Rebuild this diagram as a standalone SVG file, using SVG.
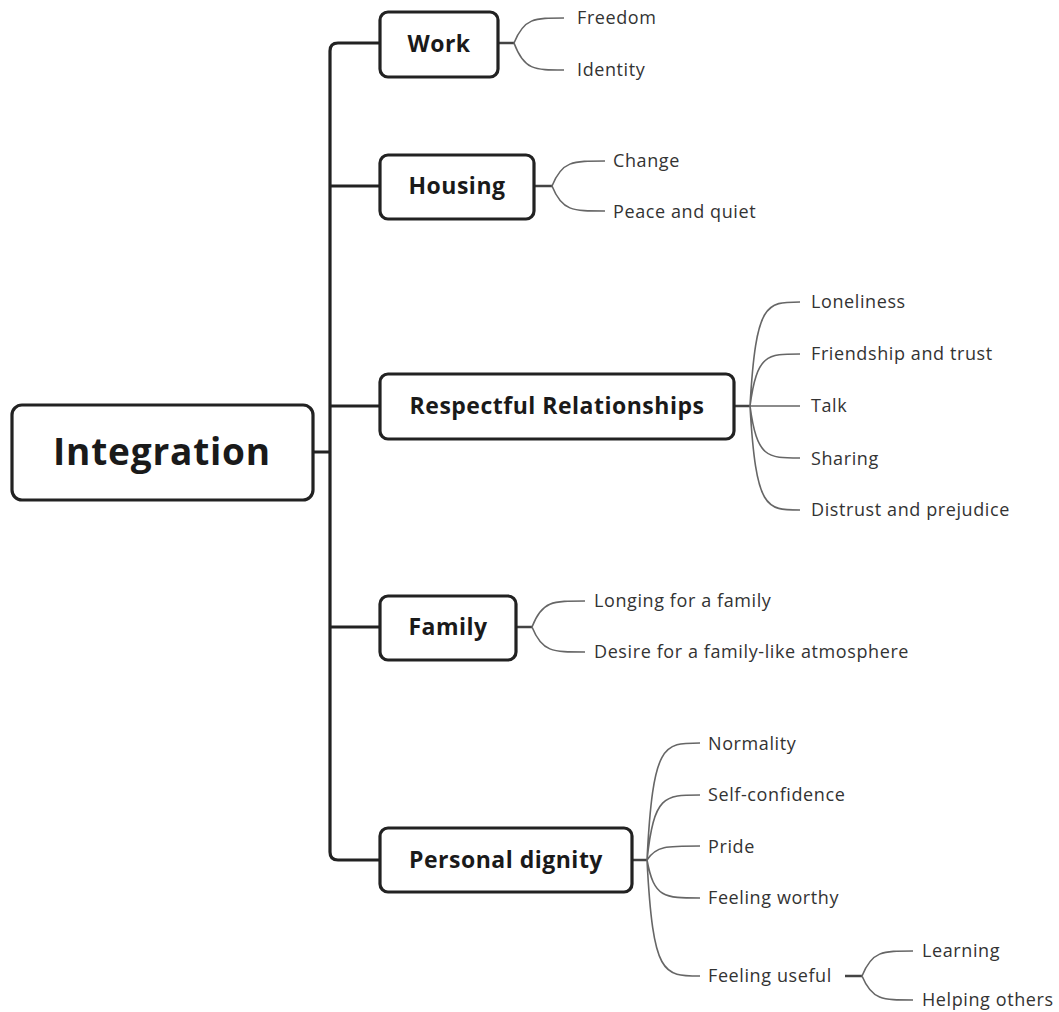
<svg xmlns="http://www.w3.org/2000/svg" width="1059" height="1012" viewBox="0 0 1059 1012">
<style>
.box{fill:#fff;stroke:#222;stroke-width:3.2}
.trunk{fill:none;stroke:#222;stroke-width:3.2}
.stub{fill:none;stroke:#444;stroke-width:2.4}
.br{fill:none;stroke:#666;stroke-width:1.6}
.root{font-family:"Open Sans",sans-serif;font-weight:700;font-size:37px;letter-spacing:0.8px;fill:#1a1a1a;text-anchor:middle}
.main{font-family:"Open Sans",sans-serif;font-weight:700;font-size:23px;letter-spacing:0.5px;fill:#1a1a1a;text-anchor:middle}
.leaf{font-family:"Open Sans",sans-serif;font-size:18px;letter-spacing:0.6px;fill:#333}
</style>
<rect width="1059" height="1012" fill="#fff"/>
<g id="connectors">
<path class="trunk" d="M313 452 H330 M330 852 V51 Q330 43 338 43 H380 M330 186 H380 M330 406 H380 M330 627 H380 M330 852 Q330 860 338 860 H380"/>
<path class="stub" d="M498 43 H514 M534 186 H552 M734 406 H750 M516 627 H532 M632 860 H647 M845 976 H862"/>
<path class="br" d="M514 43 C524 18,534 18,564 18 M514 43 C524 70,534 70,564 70"/>
<path class="br" d="M552 186 C562 161,572 161,605 161 M552 186 C562 211,572 211,605 211"/>
<path class="br" d="M750 406 C756 302,766 302,800 302 M750 406 C757 354,767 354,800 354 M750 406 H800 M750 406 C757 458,767 458,800 458 M750 406 C756 510,766 510,800 510"/>
<path class="br" d="M532 627 C542 601,552 601,585 601 M532 627 C542 652,552 652,585 652"/>
<path class="br" d="M647 860 C653 743,663 743,700 743 M647 860 C654 795,664 795,700 795 M647 860 C656 846,666 846,700 846 M647 860 C654 898,664 898,700 898 M647 860 C653 976,663 976,700 976"/>
<path class="br" d="M862 976 C872 951,882 951,913 951 M862 976 C872 1000,882 1000,913 1000"/>
</g>
<g id="integration"><rect class="box" x="12" y="405" width="301" height="95" rx="10"/><text class="root" x="162" y="465">Integration</text></g>
<g id="work"><rect class="box" x="380" y="12" width="118" height="65" rx="8"/><text class="main" x="439" y="52">Work</text>
<text class="leaf" x="577" y="24">Freedom</text><text class="leaf" x="577" y="76">Identity</text></g>
<g id="housing"><rect class="box" x="380" y="155" width="154" height="64" rx="8"/><text class="main" x="457" y="194">Housing</text>
<text class="leaf" x="613" y="167">Change</text><text class="leaf" x="613" y="218">Peace and quiet</text></g>
<g id="respectful"><rect class="box" x="380" y="374" width="354" height="65" rx="8"/><text class="main" x="557" y="414">Respectful Relationships</text>
<text class="leaf" x="811" y="308">Loneliness</text><text class="leaf" x="811" y="360">Friendship and trust</text><text class="leaf" x="811" y="412">Talk</text><text class="leaf" x="811" y="465">Sharing</text><text class="leaf" x="811" y="516">Distrust and prejudice</text></g>
<g id="family"><rect class="box" x="380" y="596" width="136" height="64" rx="8"/><text class="main" x="448" y="635">Family</text>
<text class="leaf" x="594" y="607">Longing for a family</text><text class="leaf" x="594" y="658">Desire for a family-like atmosphere</text></g>
<g id="dignity"><rect class="box" x="380" y="828" width="252" height="64" rx="8"/><text class="main" x="506" y="868">Personal dignity</text>
<text class="leaf" x="708" y="750">Normality</text><text class="leaf" x="708" y="801">Self-confidence</text><text class="leaf" x="708" y="853">Pride</text><text class="leaf" x="708" y="904">Feeling worthy</text><text class="leaf" x="708" y="982">Feeling useful</text></g>
<g id="feeling-useful"><text class="leaf" x="922" y="957">Learning</text><text class="leaf" x="922" y="1006">Helping others</text></g>
</svg>
